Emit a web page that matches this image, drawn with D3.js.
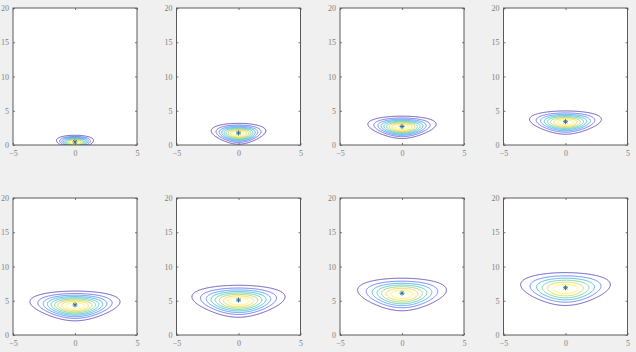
<!DOCTYPE html>
<html><head><meta charset="utf-8">
<script src="https://cdn.jsdelivr.net/npm/d3@7"></script>
<style>
html,body{margin:0;padding:0;background:#f0f0f0;}
svg{display:block;}
</style></head>
<body>
<svg id="chart" width="636" height="352"></svg>
<script>
// ---- data ----
const panels = [1,2,3,4,5,6,7,8];
const meanY   = [0.45, 1.75, 2.7, 3.4, 4.4, 5.1, 6.1, 6.9];   // marker / centre y
const sigmaY  = [0.48, 0.7, 0.75, 0.8, 1.0, 1.1, 1.15, 1.2];
const sigmaX  = [0.68, 1.0, 1.25, 1.35, 1.65, 1.75, 1.72, 1.8];
const widen   = [0.15, 0.15, 0.15, 0.15, 0.15, 0.15, 0.15, 0.15];   // growth of x-spread with y
const levelCounts = [9, 9, 9, 8, 9, 8, 7, 6];
const xTicks = [-5, 0, 5];
const yTicks = [0, 5, 10, 15, 20];
const xDomain = [-5, 5];
const yDomain = [0, 20];
const parula = ["#3e26a8","#4850f4","#2d87f7","#12b1d6","#37c896","#abc739","#fec338","#f9fb15"];

// ---- layout ----
const colLeft = [13, 176.5, 340, 503.5];
const rowTop = [8, 198];
const W = 124, H = 137;

const svg = d3.select("#chart");
const colorScale = d3.scaleLinear().domain(d3.range(parula.length).map(i => i/(parula.length-1))).range(parula);

const nx = 201, ny = 401;
const dx = (xDomain[1]-xDomain[0])/(nx-1), dy = (yDomain[1]-yDomain[0])/(ny-1);

panels.forEach((p, idx) => {
  const left = colLeft[idx % 4], top = rowTop[Math.floor(idx/4)];
  const x = d3.scaleLinear().domain(xDomain).range([left, left+W]);
  const y = d3.scaleLinear().domain(yDomain).range([top+H, top]);
  const g = svg.append("g");
  g.append("rect").attr("x", left).attr("y", top).attr("width", W).attr("height", H).attr("fill", "#fff");

  // density grid
  const my = meanY[idx], sy = sigmaY[idx], sx = sigmaX[idx], k = widen[idx];
  const vals = new Float64Array(nx*ny);
  for (let j = 0; j < ny; j++) {
    const yy = yDomain[0] + j*dy;
    const s = Math.max(0.08*sx, sx*(1 + k*(yy-my)/sy));
    const fy = Math.exp(-0.5*((yy-my)/sy)**2);
    for (let i = 0; i < nx; i++) {
      const xx = xDomain[0] + i*dx;
      vals[i + j*nx] = fy * Math.exp(-0.5*(xx/s)**2) / s;
    }
  }
  const vmax = d3.max(vals);
  const n = levelCounts[idx];
  const levels = d3.range(1, n+1).map(i => vmax * i/(n+1));
  const contours = d3.contours().size([nx, ny]).thresholds(levels)(vals);
  const proj = d3.geoTransform({point: function(gx, gy){
    this.stream.point(x(xDomain[0] + (gx-0.5)*dx), y(yDomain[0] + (gy-0.5)*dy));
  }});
  const path = d3.geoPath(proj);
  const clipId = "clip"+idx;
  g.append("clipPath").attr("id", clipId).append("rect")
    .attr("x", left).attr("y", top).attr("width", W).attr("height", H);
  g.append("g").attr("clip-path", `url(#${clipId})`)
    .selectAll("path").data(contours).join("path")
    .attr("d", path)
    .attr("fill", "none")
    .attr("stroke", (d, i) => colorScale(n > 1 ? i/(n-1) : 0))
    .attr("stroke-width", 0.75);

  // marker '*'
  const mx = x(0), myp = y(my), r = 2.5;
  const star = g.append("g").attr("stroke", "#2a6d8c").attr("stroke-width", 0.9);
  star.append("line").attr("x1", mx-r).attr("x2", mx+r).attr("y1", myp).attr("y2", myp);
  star.append("line").attr("x1", mx).attr("x2", mx).attr("y1", myp-r).attr("y2", myp+r);
  star.append("line").attr("x1", mx-r*0.7).attr("x2", mx+r*0.7).attr("y1", myp-r*0.7).attr("y2", myp+r*0.7);
  star.append("line").attr("x1", mx-r*0.7).attr("x2", mx+r*0.7).attr("y1", myp+r*0.7).attr("y2", myp-r*0.7);

  // axes
  const tickStyle = sel => {
    sel.select(".domain").remove();
    sel.selectAll("line").attr("stroke", "#777");
    sel.selectAll("text").attr("fill", "#808080").style("font-family", "Liberation Serif, serif").style("font-size", "8px");
  };
  g.append("g").attr("transform", `translate(0,${top+H})`)
    .call(d3.axisBottom(x).tickValues(xTicks).tickSizeInner(-2).tickSizeOuter(0).tickPadding(5)).call(tickStyle);
  g.append("g").attr("transform", `translate(0,${top})`)
    .call(d3.axisTop(x).tickValues(xTicks).tickSizeInner(-2).tickSizeOuter(0).tickFormat("")).call(tickStyle);
  g.append("g").attr("transform", `translate(${left},0)`)
    .call(d3.axisLeft(y).tickValues(yTicks).tickSizeInner(-2).tickSizeOuter(0).tickPadding(4)).call(tickStyle);
  g.append("g").attr("transform", `translate(${left+W},0)`)
    .call(d3.axisRight(y).tickValues(yTicks).tickSizeInner(-2).tickSizeOuter(0).tickFormat("")).call(tickStyle);
  g.append("rect").attr("x", left).attr("y", top).attr("width", W).attr("height", H)
    .attr("fill", "none").attr("stroke", "#5a5a5a").attr("stroke-width", 1);
});
</script>
</body></html>
